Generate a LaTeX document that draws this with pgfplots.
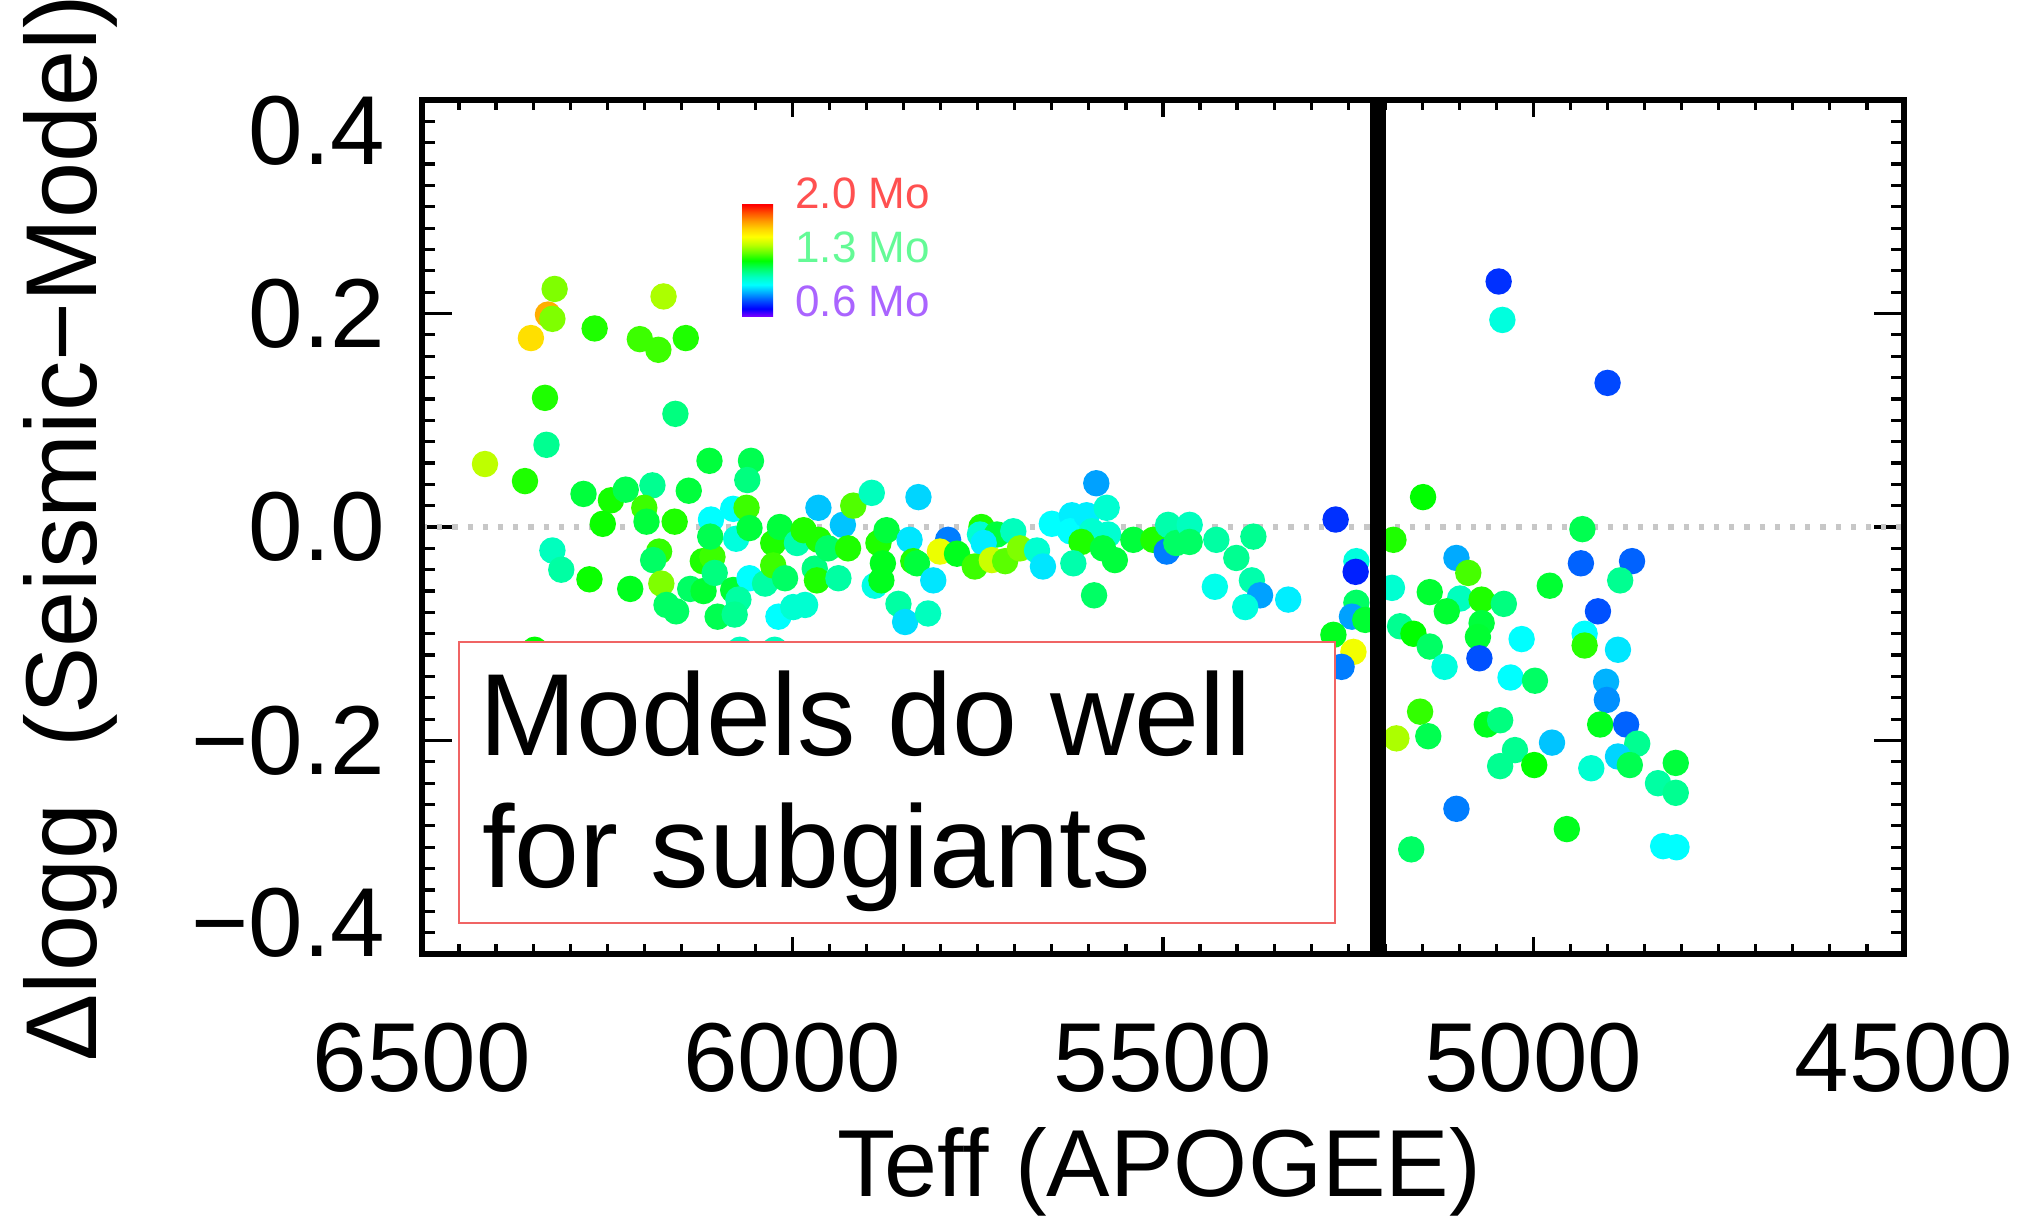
\documentclass[border=0pt]{standalone}
\usepackage{fontspec}
\setmainfont{Liberation Sans}
\usepackage{pgfplots}
\usepackage{pgfplotstable}
\pgfplotsset{compat=1.18}

\definecolor{c1}{RGB}{128,0,255}
\definecolor{c2}{RGB}{0,0,255}
\definecolor{c3}{RGB}{0,80,255}
\definecolor{c4}{RGB}{0,170,255}
\definecolor{c5}{RGB}{0,255,255}
\definecolor{c6}{RGB}{0,255,190}
\definecolor{c7}{RGB}{0,255,100}
\definecolor{c8}{RGB}{0,255,0}
\definecolor{c9}{RGB}{100,255,0}
\definecolor{c10}{RGB}{190,255,0}
\definecolor{c11}{RGB}{255,255,0}
\definecolor{c12}{RGB}{255,210,0}
\definecolor{c13}{RGB}{255,150,0}
\definecolor{c14}{RGB}{255,80,0}
\definecolor{c15}{RGB}{255,0,0}
\definecolor{boxred}{RGB}{240,100,100}
\definecolor{legred}{RGB}{255,80,80}
\definecolor{leggreen}{RGB}{100,250,150}
\definecolor{legpurple}{RGB}{170,100,255}

\pgfdeclareverticalshading{idlbar}{100bp}{color(0bp)=(c1); color(25bp)=(c1); color(28.571bp)=(c2); color(32.143bp)=(c3); color(35.714bp)=(c4); color(39.286bp)=(c5); color(42.857bp)=(c6); color(46.429bp)=(c7); color(50bp)=(c8); color(53.571bp)=(c9); color(57.143bp)=(c10); color(60.714bp)=(c11); color(64.286bp)=(c12); color(67.857bp)=(c13); color(71.429bp)=(c14); color(75bp)=(c15); color(100bp)=(c15)}

\newcommand{\tickfont}{\fontsize{24.5pt}{29pt}\selectfont}
\newcommand{\boxfont}{\fontsize{29.2pt}{33pt}\selectfont}
\newcommand{\xlabfont}{\fontsize{23.8pt}{28pt}\selectfont}
\newcommand{\ylabfont}{\fontsize{25.2pt}{30pt}\selectfont}
\newcommand{\legfont}{\fontsize{11pt}{13pt}\selectfont}

\pgfplotstableread{
t g m
6321 0.223 1.43
6330 0.199 1.76
6324 0.195 1.43
6353 0.177 1.67
6267 0.186 1.33
6174 0.216 1.48
6206 0.176 1.36
6181 0.166 1.36
6144 0.177 1.33
6334 0.121 1.33
6158 0.106 1.17
6332 0.077 1.15
6415 0.059 1.50
6361 0.043 1.33
6112 0.062 1.24
6056 0.062 1.22
6061 0.044 1.17
6282 0.031 1.24
6245 0.025 1.32
6225 0.035 1.22
6189 0.039 1.15
6140 0.034 1.24
6200 0.018 1.36
6256 0.003 1.31
6197 0.005 1.24
6159 0.005 1.33
6110 0.007 1.00
6080 0.017 1.00
6062 0.018 1.36
5965 0.018 0.93
5932 0.002 0.93
5918 0.020 1.38
5893 0.032 1.10
5830 0.028 0.95
6324 -0.022 1.10
6312 -0.040 1.13
6274 -0.049 1.31
6219 -0.058 1.27
6180 -0.023 1.35
6188 -0.031 1.20
6177 -0.053 1.43
6170 -0.073 1.20
6157 -0.079 1.20
6138 -0.058 1.20
6120 -0.060 1.25
6121 -0.032 1.33
6108 -0.028 1.36
6111 -0.009 1.22
6105 -0.043 1.17
6101 -0.084 1.22
6080 -0.059 1.25
6076 -0.011 1.05
6058 -0.001 1.24
6058 -0.048 1.00
6073 -0.068 1.13
6078 -0.082 1.15
6037 -0.053 1.13
6026 -0.015 1.33
6017 0.000 1.24
6026 -0.036 1.36
6010 -0.048 1.20
6019 -0.084 1.00
5999 -0.075 1.07
5983 -0.073 1.07
5994 -0.015 1.12
5985 -0.003 1.33
5965 -0.012 1.33
5970 -0.039 1.17
5967 -0.050 1.33
5952 -0.020 1.20
5938 -0.048 1.13
5925 -0.020 1.33
5889 -0.055 1.04
5884 -0.015 1.33
5873 -0.003 1.24
5878 -0.034 1.27
5857 -0.072 1.13
5848 -0.089 0.96
5842 -0.012 0.97
5837 -0.032 1.33
5880 -0.050 1.27
6348 -0.115 1.30
6071 -0.115 1.10
6024 -0.115 1.10
5590 0.041 0.89
5790 -0.012 0.85
5801 -0.023 1.57
5832 -0.034 1.24
5778 -0.025 1.27
5745 0.000 1.33
5747 -0.007 1.07
5724 -0.007 1.24
5742 -0.015 0.98
5754 -0.037 1.36
5731 -0.031 1.52
5713 -0.032 1.39
5702 -0.004 1.10
5693 -0.020 1.43
5670 -0.022 1.07
5662 -0.037 0.97
5650 0.003 1.00
5623 0.011 0.98
5625 -0.004 1.00
5603 0.011 0.98
5576 0.018 1.07
5596 -0.004 1.07
5574 -0.007 1.07
5610 -0.014 1.33
5581 -0.020 1.24
5565 -0.031 1.24
5621 -0.034 1.12
5593 -0.064 1.20
5540 -0.012 1.24
5513 -0.012 1.33
5493 0.002 1.12
5495 -0.023 0.85
5482 -0.015 1.20
5464 0.002 1.10
5464 -0.014 1.20
5428 -0.012 1.13
5378 -0.009 1.15
5401 -0.029 1.15
5430 -0.056 1.03
5380 -0.050 1.12
5369 -0.064 0.89
5389 -0.075 1.05
5331 -0.068 0.98
5267 0.007 0.76
5239 -0.032 1.05
5240 -0.042 0.74
5239 -0.071 1.20
5245 -0.084 0.89
5270 -0.101 1.27
5243 -0.117 1.58
5259 -0.131 0.85
5817 -0.081 1.10
5810 -0.050 0.97
5227 -0.087 1.25
5189 -0.012 1.33
5191 -0.057 1.07
5180 -0.093 1.15
5047 0.230 0.76
5042 0.194 1.05
4900 0.135 0.79
5149 0.028 1.30
4934 -0.002 1.22
5104 -0.029 0.90
5088 -0.043 1.37
4936 -0.034 0.82
4867 -0.032 0.82
4883 -0.050 1.15
4978 -0.055 1.25
5140 -0.061 1.25
5099 -0.067 1.10
5070 -0.068 1.33
5040 -0.072 1.17
5117 -0.079 1.25
5070 -0.090 1.24
5075 -0.103 1.25
4913 -0.079 0.80
5162 -0.100 1.30
5140 -0.112 1.20
5016 -0.105 1.00
4931 -0.100 1.00
4931 -0.111 1.34
4886 -0.115 0.97
5120 -0.131 1.05
5073 -0.123 0.80
5031 -0.141 1.00
4998 -0.144 1.20
4902 -0.145 0.91
4901 -0.162 0.87
5153 -0.173 1.35
5185 -0.198 1.48
5142 -0.196 1.22
5063 -0.185 1.27
5045 -0.181 1.17
4910 -0.185 1.27
4875 -0.185 0.82
4860 -0.203 1.15
4886 -0.215 0.95
4870 -0.223 1.22
5025 -0.209 1.15
5045 -0.224 1.15
4999 -0.223 1.30
4975 -0.202 0.93
4922 -0.226 1.07
4808 -0.221 1.24
4832 -0.240 1.13
4808 -0.249 1.15
5104 -0.264 0.85
4955 -0.283 1.27
5165 -0.302 1.20
4825 -0.299 1.00
4807 -0.300 1.00
}\stars

\begin{document}
\begin{tikzpicture}
\useasboundingbox (0,0) rectangle (506pt,304.5pt);
\begin{axis}[
  at={(105.5pt,66pt)}, anchor=south west,
  scale only axis, width=370.5pt, height=213.5pt,
  x dir=reverse, xmin=4500, xmax=6500, ymin=-0.4, ymax=0.4,
  xtick=\empty,
  ytick={-0.4,-0.2,0,0.2,0.4},
  yticklabels={,−0.2,0.0,0.2,},
  extra y ticks={-0.371,0.371},
  extra y tick labels={−0.4,0.4},
  extra y tick style={major tick length=0pt},
  minor y tick num=9,
  major tick length=7.5pt, minor tick length=3.3pt,
  tick style={line width=0.8pt, black},
  axis line style={line width=1.6pt},
  yticklabel style={font=\tickfont, anchor=east, inner sep=0pt, xshift=-9pt},
  colormap={idl}{rgb255=(128,0,255) rgb255=(0,0,255) rgb255=(0,80,255) rgb255=(0,170,255) rgb255=(0,255,255) rgb255=(0,255,190) rgb255=(0,255,100) rgb255=(0,255,0) rgb255=(100,255,0) rgb255=(190,255,0) rgb255=(255,255,0) rgb255=(255,210,0) rgb255=(255,150,0) rgb255=(255,80,0) rgb255=(255,0,0)},
  point meta min=0.6, point meta max=2.0,
]
\draw[black!22, line width=1.3pt, dash pattern=on 1.3pt off 2.5pt] (axis cs:6500,0) -- (axis cs:4500,0);
\addplot[scatter, only marks, mark=*, mark size=3.1pt,
  scatter/use mapped color={draw=mapped color, fill=mapped color},
  point meta=explicit] table[x=t, y=g, meta=m]{\stars};
\shade[shading=idlbar] (axis cs:6068,0.197) rectangle (axis cs:6026,0.302);
\node[anchor=west, inner sep=0pt, font=\legfont, text=legred] at (axis cs:5997,0.313) {2.0 Mo};
\node[anchor=west, inner sep=0pt, font=\legfont, text=leggreen] at (axis cs:5997,0.262) {1.3 Mo};
\node[anchor=west, inner sep=0pt, font=\legfont, text=legpurple] at (axis cs:5997,0.211) {0.6 Mo};
\end{axis}
\begin{axis}[
  at={(105.5pt,66pt)}, anchor=south west,
  scale only axis, width=370.5pt, height=213.5pt,
  x dir=reverse, xmin=4500, xmax=6500, ymin=-0.4, ymax=0.4,
  ytick=\empty,
  xtick={4500,5000,5500,6000,6500},
  xticklabels={4500,5000,5500,6000,6500},
  minor x tick num=9,
  major tick length=4.3pt, minor tick length=2.5pt,
  tick style={line width=0.8pt, black},
  axis line style={line width=1.6pt},
  xticklabel style={font=\tickfont, anchor=base, yshift=-34.5pt},
]
\draw[line width=4pt] (axis cs:5210,-0.4) -- (axis cs:5210,0.4);
\draw[draw=boxred, fill=white, line width=0.4pt] (axis cs:6450,-0.108) rectangle (axis cs:5268,-0.371);
\node[anchor=base west, inner sep=0pt, font=\boxfont] at (axis cs:6424,-0.2145) {Models do well};
\node[anchor=base west, inner sep=0pt, font=\boxfont] at (axis cs:6420,-0.338) {for subgiants};
\end{axis}
\node[rotate=90, anchor=base, font=\ylabfont] at (24.25pt,172.5pt) {Δlogg\ \ (Seismic−Model)};
\node[anchor=base, font=\xlabfont] at (289.75pt,5.25pt) {Teff (APOGEE)};
\end{tikzpicture}
\end{document}
